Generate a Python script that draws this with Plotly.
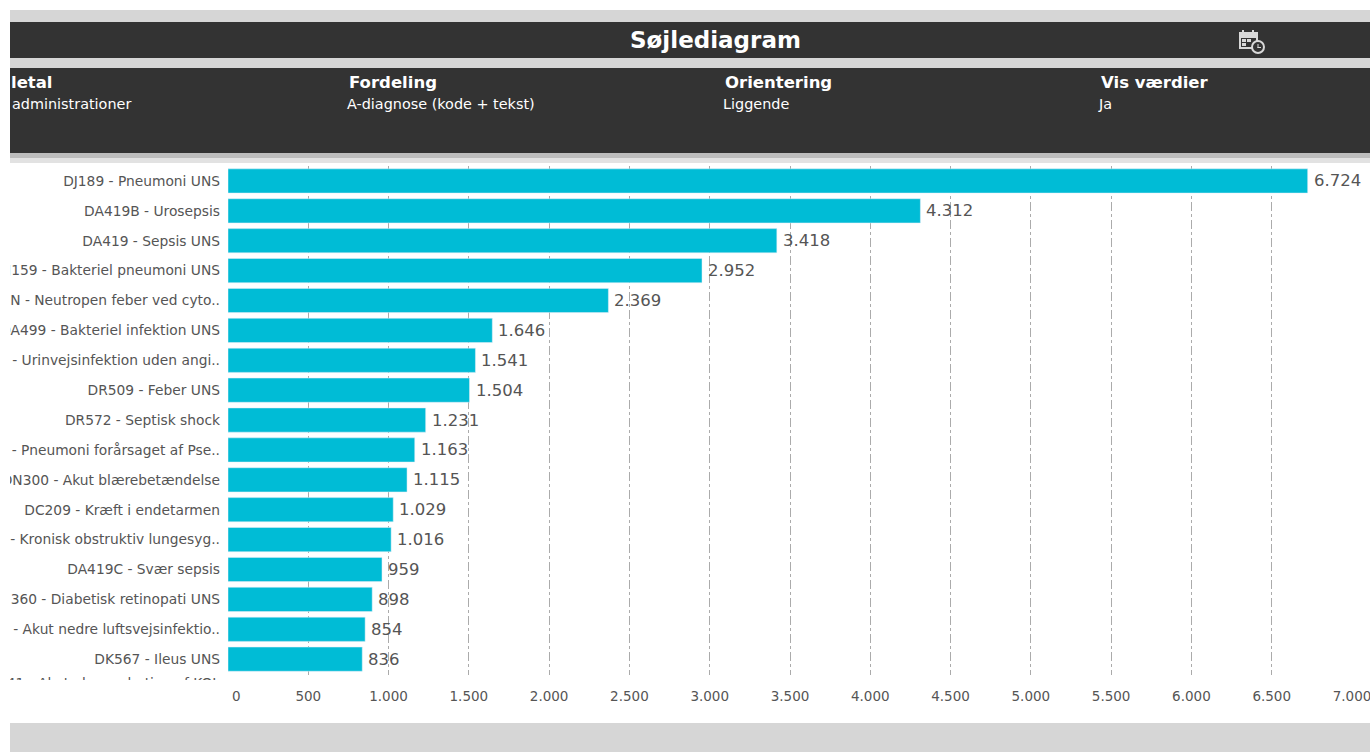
import plotly.graph_objects as go

W, H = 1370, 752

categories = [
    "DJ189 - Pneumoni UNS",
    "DA419B - Urosepsis",
    "DA419 - Sepsis UNS",
    "DJ159 - Bakteriel pneumoni UNS",
    "DD709N - Neutropen feber ved cyto..",
    "DA499 - Bakteriel infektion UNS",
    "DN390 - Urinvejsinfektion uden angi..",
    "DR509 - Feber UNS",
    "DR572 - Septisk shock",
    "DJ151 - Pneumoni forårsaget af Pse..",
    "DN300 - Akut blærebetændelse",
    "DC209 - Kræft i endetarmen",
    "DJ449 - Kronisk obstruktiv lungesyg..",
    "DA419C - Svær sepsis",
    "DH360 - Diabetisk retinopati UNS",
    "DJ22 - Akut nedre luftsvejsinfektio..",
    "DK567 - Ileus UNS",
]
values = [6724, 4312, 3418, 2952, 2369, 1646, 1541, 1504, 1231, 1163, 1115,
          1029, 1016, 959, 898, 854, 836]
x_ticks = list(range(0, 7001, 500))
next_row_label = "DJ441 - Akut eksacerbation af KOL"

header_columns = [
    ("letal", "administrationer", 9, 10),
    ("Fordeling", "A-diagnose (kode + tekst)", 347, 345),
    ("Orientering", "Liggende", 723, 721),
    ("Vis værdier", "Ja", 1099, 1096),
]

BAR = "#00bcd6"
DARK = "#333333"
BAND = "#d6d6d6"
TEXT = "#555555"
ICON = "#d8d8d8"
FONT = "DejaVu Sans"


def dotted(v):
    return f"{v:,}".replace(",", ".")


def band(x0, y0, x1, y1, color):
    return dict(type="rect", xref="paper", yref="paper", layer="above",
                x0=x0 / W, x1=x1 / W, y0=1 - y0 / H, y1=1 - y1 / H,
                fillcolor=color, line_width=0)


def label(x, y, text, size, color="#ffffff", anchor="left", bold=False):
    content = f"<b>{text}</b>" if bold else text
    return dict(xref="paper", yref="paper", x=x / W, y=1 - y / H,
                xanchor=anchor, yanchor="middle", showarrow=False, text=content,
                font=dict(family=FONT, size=size, color=color))


fig = go.Figure()
fig.add_trace(go.Bar(
    y=categories, x=values, orientation="h",
    marker_color=BAR, cliponaxis=False,
))
# Empty companion subplot that carries the label of the row scrolled out of view
fig.add_trace(go.Scatter(x=[], y=[], xaxis="x2", yaxis="y2", showlegend=False))

# Page furniture: header bands, parameter strip, footer and page margins
shapes = [
    band(0, 10, W, 22, BAND),
    band(0, 22, W, 58, DARK),
    band(0, 58, W, 68, BAND),
    band(0, 68, W, 153, DARK),
    band(0, 153, W, 158, "#bdbdbd"),
    band(0, 158, W, 163, "#e2e2e2"),
    band(0, 723, W, H, BAND),
    band(0, 680, 225, 723, "#ffffff"),
    band(0, 0, W, 10, "#ffffff"),
    band(0, 0, 10, H, "#ffffff"),
    # calendar-with-clock icon
    band(1239, 32, 1258, 49, ICON),
    band(1242, 30, 1244, 33, ICON),
    band(1252, 30, 1254, 33, ICON),
    band(1241, 38, 1256, 47, DARK),
    band(1242, 39, 1246, 42, ICON),
    band(1247, 39, 1251, 42, ICON),
    band(1242, 43, 1246, 46, ICON),
    dict(type="circle", xref="paper", yref="paper", layer="above",
         x0=1252 / W, x1=1264 / W, y0=1 - 53 / H, y1=1 - 41 / H,
         fillcolor=DARK, line=dict(color=ICON, width=2)),
    band(1257.5, 44, 1258.5, 48, ICON),
    band(1257.5, 47, 1261, 48, ICON),
]

annotations = [label(715, 40, "Søjlediagram", 23, anchor="center", bold=True)]
for head, sub, x_head, x_sub in header_columns:
    annotations.append(label(x_head, 83, head, 16.5, bold=True))
    annotations.append(label(x_sub, 104, sub, 14.4))

# Value labels sit a few pixels beyond the bar ends
for cat, v in zip(categories, values):
    annotations.append(dict(
        xref="x", yref="y", x=v, y=cat, xanchor="left", yanchor="middle",
        xshift=4, showarrow=False, text=dotted(v),
        font=dict(family=FONT, size=16.5, color=TEXT),
    ))

# The first axis label is nudged clear of the bar origin
annotations.append(dict(
    xref="x", yref="paper", x=x_ticks[0], y=1 - 696 / H, xanchor="center",
    yanchor="middle", xshift=8, showarrow=False, text=str(x_ticks[0]),
    font=dict(family=FONT, size=13.5, color=TEXT),
))

fig.update_layout(
    width=W, height=H, autosize=False,
    margin=dict(l=0, r=0, t=0, b=0, autoexpand=False),
    paper_bgcolor="#ffffff", plot_bgcolor="#ffffff",
    showlegend=False,
    shapes=shapes,
    annotations=annotations,
    bargap=0.19,
    xaxis=dict(
        domain=[228 / W, 1352 / W], range=[0, 7000], automargin=False,
        tickmode="array", tickvals=x_ticks,
        ticktext=[""] + [dotted(t) for t in x_ticks[1:]],
        showgrid=True, gridcolor="#ababab", griddash="dashdot", gridwidth=1,
        zeroline=False, showline=False, ticks="",
        tickfont=dict(family=FONT, size=13.5, color=TEXT),
        ticklabelstandoff=11, ticklabeloverflow="allow",
    ),
    yaxis=dict(
        domain=[1 - 675 / H, 1 - 166 / H], automargin=False,
        range=[16.53, -0.5], type="category",
        categoryorder="array", categoryarray=categories,
        tickmode="array", tickvals=categories,
        showgrid=False, zeroline=False, showline=False,
        ticks="", ticklabelstandoff=7, ticklabeloverflow="allow",
        tickfont=dict(family=FONT, size=13.8, color=TEXT),
    ),
    xaxis2=dict(
        domain=[228 / W, 1352 / W], range=[0, 1], visible=False,
        anchor="y2", automargin=False,
    ),
    yaxis2=dict(
        domain=[1 - 695 / H, 1 - 675 / H], range=[1, 0], anchor="x2",
        automargin=False, tickmode="array", tickvals=[0.4],
        ticktext=[next_row_label], showgrid=False, zeroline=False,
        showline=False, ticks="", ticklabelstandoff=7,
        ticklabeloverflow="allow",
        tickfont=dict(family=FONT, size=13.8, color=TEXT),
    ),
)

fig.write_html("out.html", config=dict(displayModeBar=False))
